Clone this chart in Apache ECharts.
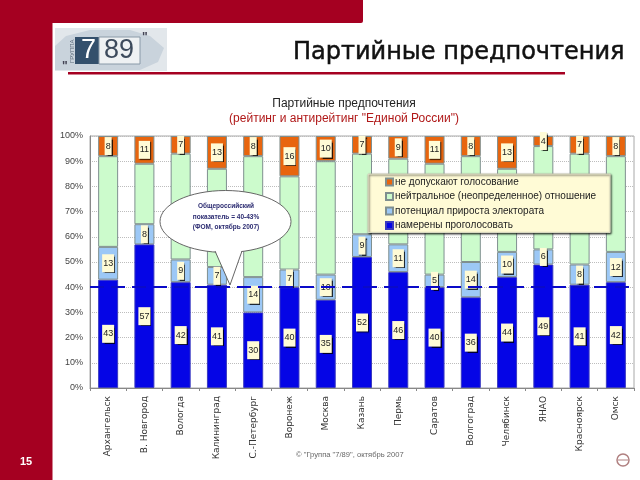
<!DOCTYPE html>
<html>
<head>
<meta charset="utf-8">
<style>
    html, body {margin: 0; padding: 0; background: #fff;}
    #chart {width: 640px; height: 480px;}
</style>
<script src="https://cdn.jsdelivr.net/npm/echarts@6/dist/echarts.min.js"></script>
</head>
<body>
<div id="chart"></div>
<script>
const cities = ['Архангельск', 'В. Новгород', 'Вологда', 'Калининград', 'С.-Петербург', 'Воронеж', 'Москва', 'Казань', 'Пермь', 'Саратов', 'Волгоград', 'Челябинск', 'ЯНАО', 'Красноярск', 'Омск'];
const willVote = [43, 57, 42, 41, 30, 40, 35, 52, 46, 40, 36, 44, 49, 41, 42];
const potential = [13, 8, 9, 7, 14, 7, 10, 9, 11, 5, 14, 10, 6, 8, 12];
const neutral = [36, 24, 42, 39, 48, 37, 45, 32, 34, 44, 42, 33, 41, 44, 38];
const refuse = [8, 11, 7, 13, 8, 16, 10, 7, 9, 11, 8, 13, 4, 7, 8];
const nationalLevel = 40;

const RED = '#a50021';
const chart = echarts.init(document.getElementById('chart'));

function barSeries(name, data, color, showLabel) {
    return {
        name: name,
        type: 'bar',
        stack: 'total',
        barWidth: 20,
        data: data,
        itemStyle: {color: color, borderColor: '#7f8f8f', borderWidth: 1},
        label: {
            show: showLabel,
            position: 'inside',
            color: '#222',
            fontFamily: 'Liberation Sans',
            fontSize: 9,
            backgroundColor: '#fffbd6',
            padding: [5, 1, 4, 1],
            shadowColor: 'rgba(0,0,0,0.8)',
            shadowBlur: 1,
            shadowOffsetX: 1,
            shadowOffsetY: 1
        }
    };
}

const blueBars = barSeries('намерены проголосовать', willVote, '#0505e6', true);
blueBars.itemStyle.borderColor = '#3a3ac0';
blueBars.markLine = {
    silent: true,
    symbol: 'none',
    label: {show: false},
    lineStyle: {color: '#0a0ac8', type: [14, 7], width: 2},
    data: [{yAxis: nationalLevel}]
};

chart.setOption({
    animation: false,
    backgroundColor: '#fff',
    title: [{
        text: 'Партийные предпочтения',
        left: 288, top: 36,
        textStyle: {fontFamily: 'DejaVu Sans', fontSize: 24, fontWeight: 'normal', color: '#111', textBorderColor: '#111', textBorderWidth: 0.5}
    }, {
        text: 'Партийные предпочтения',
        left: 339, top: 93, textAlign: 'center',
        textStyle: {fontFamily: 'Liberation Sans', fontSize: 12, fontWeight: 'normal', color: '#222'}
    }, {
        text: '(рейтинг и антирейтинг "Единой России")',
        left: 339, top: 108, textAlign: 'center',
        textStyle: {fontFamily: 'Liberation Sans', fontSize: 12, fontWeight: 'normal', color: '#b01818'}
    }],
    grid: {left: 90, right: 6, top: 136, bottom: 92, show: true, borderColor: '#a8a8a8', borderWidth: 1},
    legend: {
        orient: 'vertical',
        left: 368, top: 174,
        padding: [3, 14, 2, 17],
        icon: 'rect',
        itemWidth: 7, itemHeight: 7, itemGap: 4.5,
        data: ['не допускают голосование', 'нейтральное (неопределенное) отношение', 'потенциал прироста электората', 'намерены проголосовать'],
        backgroundColor: '#fffbd6',
        borderColor: '#d8d8c0',
        borderWidth: 1,
        shadowColor: 'rgba(0,0,0,0.7)',
        shadowBlur: 2,
        shadowOffsetX: 1,
        shadowOffsetY: 1,
        textStyle: {fontFamily: 'Liberation Sans', fontSize: 10, color: '#222', padding: [0, 0, 0, -3]},
        z: 20
    },
    xAxis: {
        type: 'category',
        data: cities,
        axisLine: {lineStyle: {color: '#888'}},
        axisTick: {show: true, alignWithLabel: false, length: 3, lineStyle: {color: '#888'}},
        axisLabel: {rotate: 90, interval: 0, fontFamily: 'DejaVu Sans', fontSize: 9, color: '#333', margin: 8}
    },
    yAxis: {
        type: 'value',
        min: 0, max: 100, interval: 10,
        axisLine: {show: true, lineStyle: {color: '#888'}},
        axisTick: {show: false},
        axisLabel: {formatter: '{value}%', fontFamily: 'Liberation Sans', fontSize: 9, color: '#444', margin: 7},
        splitLine: {lineStyle: {color: '#bdbdbd', type: 'dotted'}}
    },
    series: [
        blueBars,
        barSeries('потенциал прироста электората', potential, '#9cc8f6', true),
        barSeries('нейтральное (неопределенное) отношение', neutral, '#ccfbcc', false),
        barSeries('не допускают голосование', refuse, '#e8650e', true)
    ],
    graphic: [
        // slide frame
        {type: 'rect', shape: {x: 0, y: 0, width: 52.5, height: 480}, style: {fill: RED}, z: 0},
        {type: 'rect', shape: {x: 0, y: 0, width: 363, height: 23, r: [0, 0, 2, 0]}, style: {fill: RED}, z: 0},
        {type: 'rect', shape: {x: 68, y: 72, width: 497, height: 2.5}, style: {fill: RED}, z: 0},
        {type: 'text', x: 20, y: 456, style: {text: '15', fill: '#fff', font: 'bold 11px "Liberation Sans"'}},
        // logo
        {type: 'rect', shape: {x: 55, y: 28, width: 112, height: 43}, style: {fill: '#e2e7eb'}, z: 0},
        {type: 'polygon', z: 0, shape: {points: [[55, 46], [66, 36], [90, 30], [130, 30], [150, 36], [164, 48], [158, 62], [140, 70], [55, 70]]}, style: {fill: '#c9d3dc'}},
        {type: 'text', x: 69, y: 63, rotation: Math.PI / 2, z: 2, style: {text: 'ГРУППА', fill: '#5a6a7a', font: '6px "Liberation Sans"'}},
        {type: 'rect', shape: {x: 75, y: 37, width: 24, height: 27}, style: {fill: '#34506c'}, z: 1},
        {type: 'rect', shape: {x: 99, y: 37, width: 41, height: 27}, style: {fill: '#eef1f3', stroke: '#8a9aa8', lineWidth: 1}, z: 1},
        {type: 'text', x: 81, y: 37, z: 2, style: {text: '7', fill: '#fff', font: '27px "Liberation Sans"'}},
        {type: 'text', x: 104, y: 37, z: 2, style: {text: '89', fill: '#3c4a5c', font: '27px "Liberation Sans"'}},
        {type: 'text', x: 142, y: 32, z: 2, style: {text: '"', fill: '#445', font: 'bold 12px "Liberation Sans"'}},
        {type: 'text', x: 62, y: 61, z: 2, style: {text: '"', fill: '#445', font: 'bold 12px "Liberation Sans"'}},
        // callout
        {type: 'ellipse', z: 30, shape: {cx: 225.5, cy: 221.5, rx: 65.5, ry: 31}, style: {fill: '#fff', stroke: '#666', lineWidth: 1}},
        {type: 'polygon', z: 31, shape: {points: [[215, 250], [230, 285], [242, 250]]}, style: {fill: '#fff'}},
        {type: 'polyline', z: 31, shape: {points: [[215, 251], [230, 285], [242, 251]]}, style: {fill: null, stroke: '#666', lineWidth: 1}},
        {type: 'text', x: 226, y: 201, z: 32, style: {text: 'Общероссийский\nпоказатель = 40-43%\n(ФОМ, октябрь 2007)', fill: '#2a2a70', align: 'center', lineHeight: 10.5, font: 'bold 6.5px "Liberation Sans"'}},
        // footer
        {type: 'text', x: 296, y: 451, style: {text: '© "Группа "7/89", октябрь 2007', fill: '#666', font: '7.6px "Liberation Sans"'}},
        {type: 'circle', shape: {cx: 623, cy: 460, r: 6}, style: {fill: '#fff', stroke: '#b08080', lineWidth: 1.5}},
        {type: 'line', shape: {x1: 618, y1: 460, x2: 628, y2: 460}, style: {stroke: '#b08080', lineWidth: 1}}
    ]
});
</script>
</body>
</html>
